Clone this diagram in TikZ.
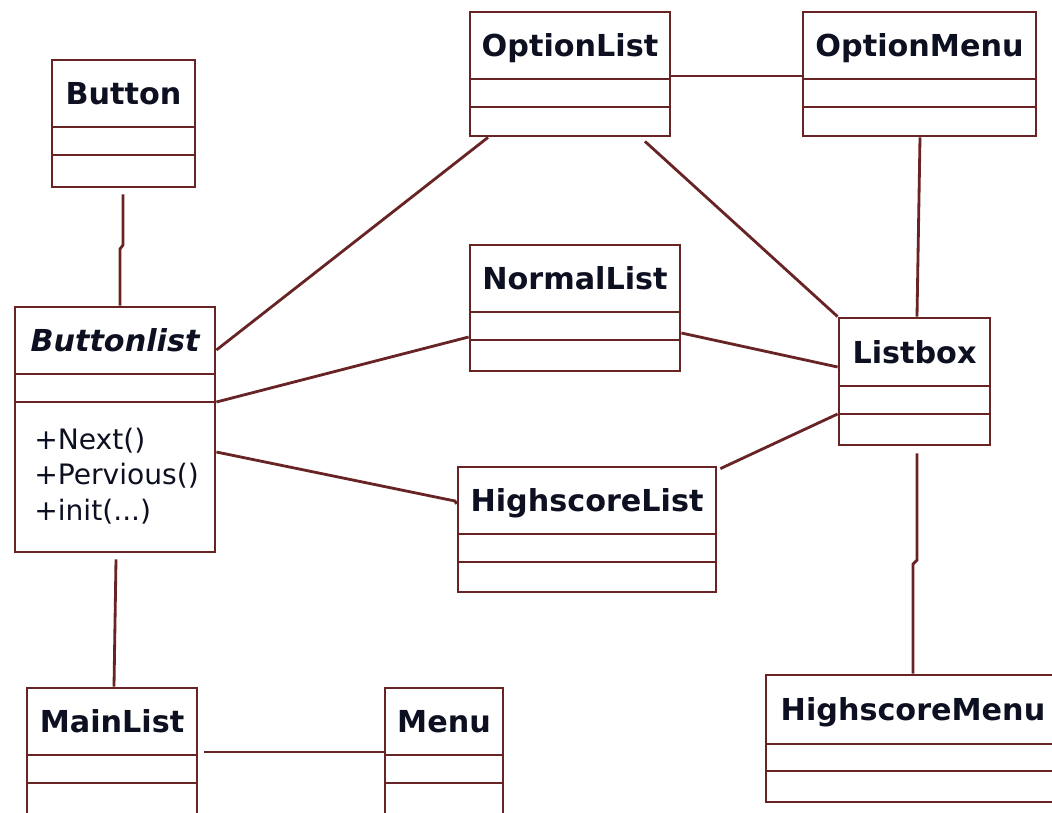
\documentclass[tikz,border=0pt]{standalone}
\usepackage{fontspec}
\setmainfont{DejaVu Sans}
\usetikzlibrary{fit,calc}
\definecolor{umlline}{RGB}{104,36,36}
\definecolor{umltext}{RGB}{12,16,32}
\tikzset{
  clsbox/.style={draw=umlline, line width=2pt, inner sep=0pt},
  divider/.style={draw=umlline, line width=2pt},
  clstitle/.style={text=umltext, font=\bfseries\fontsize{21.5}{24}\selectfont, inner sep=0pt, anchor=base},
  meth/.style={text=umltext, font=\fontsize{20}{24}\selectfont, inner sep=0pt, anchor=base west},
  assoc/.style={draw=umlline, line width=2pt}
}
% name, x1, y1, x2, y2, divider1, divider2, title
\newcommand\umlclass[8]{%
  \node[clsbox, fit={(#2,#3)(#4,#5)}] (#1) {};
  \draw[divider] (#2,#6) -- (#4,#6);
  \draw[divider] (#2,#7) -- (#4,#7);
  \node[clstitle] (#1-t) at ({(#2+#4)/2},{(#3+#6)/2+11}) {#8};
}
\begin{document}
\begin{tikzpicture}[x=0.025cm, y=-0.025cm]
\useasboundingbox (0,0) rectangle (1052,812);
\clip (0,0) rectangle (1052,812);
\fill[white] (0,0) rectangle (1052,812);

\umlclass{button}{52}{60}{195}{187}{127}{155}{Button}
\umlclass{optlist}{470}{12}{670}{136}{79}{107}{OptionList}
\umlclass{optmenu}{803}{12}{1036}{136}{79}{107}{OptionMenu}
\umlclass{buttonlist}{15}{307}{215}{552}{374}{402}{\itshape Buttonlist}
\umlclass{normal}{470}{245}{680}{371}{312}{340}{NormalList}
\umlclass{listbox}{839}{318}{990}{445}{386}{414}{Listbox}
\umlclass{hslist}{458}{467}{716}{592}{534}{562}{HighscoreList}
\umlclass{mainlist}{27}{688}{197}{818}{755}{783}{MainList}
\umlclass{menu}{385}{688}{503}{818}{755}{783}{Menu}
\umlclass{hsmenu}{766}{675}{1060}{802}{744}{771}{HighscoreMenu}

\node[meth] (m1) at (34,449) {+Next()};
\node[meth] (m2) at (34,484) {+Pervious()};
\node[meth] (m3) at (34,520) {+init(...)};

% connectors
\draw[assoc] (button.south -| 123,0) ++(0,6) -- (123,245) -- (120,249) -- (buttonlist.north -| 120,0);
\draw[assoc] (buttonlist.east |- 0,350) -- (optlist.south -| 488,0);
\draw[assoc] (optlist.south -| 645,0) ++(0,4) -- (listbox.north west);
\draw[assoc] (optmenu.south -| 920,0) -- (listbox.north -| 917,0);
\draw[assoc] (optlist.east |- 0,76) -- (optmenu.west |- 0,76);
\draw[assoc] (normal.east |- 0,333) -- (listbox.west |- 0,367);
\draw[assoc] (buttonlist.east |- 0,402) -- (normal.west |- 0,337);
\draw[assoc] (buttonlist.east |- 0,452) -- (455,501) -- (hslist.west |- 0,504);
\draw[assoc] (hslist.north east) ++(3,3) -- (listbox.west |- 0,414);
\draw[assoc] (listbox.south -| 917,0) ++(0,7) -- (917,560) -- (913,564) -- (hsmenu.north -| 913,0);
\draw[assoc] (buttonlist.south -| 116,0) ++(0,6) -- (mainlist.north -| 114,0);
\draw[assoc] (mainlist.east |- 0,752) ++(6,0) -- (menu.west |- 0,752);
\end{tikzpicture}
\end{document}
